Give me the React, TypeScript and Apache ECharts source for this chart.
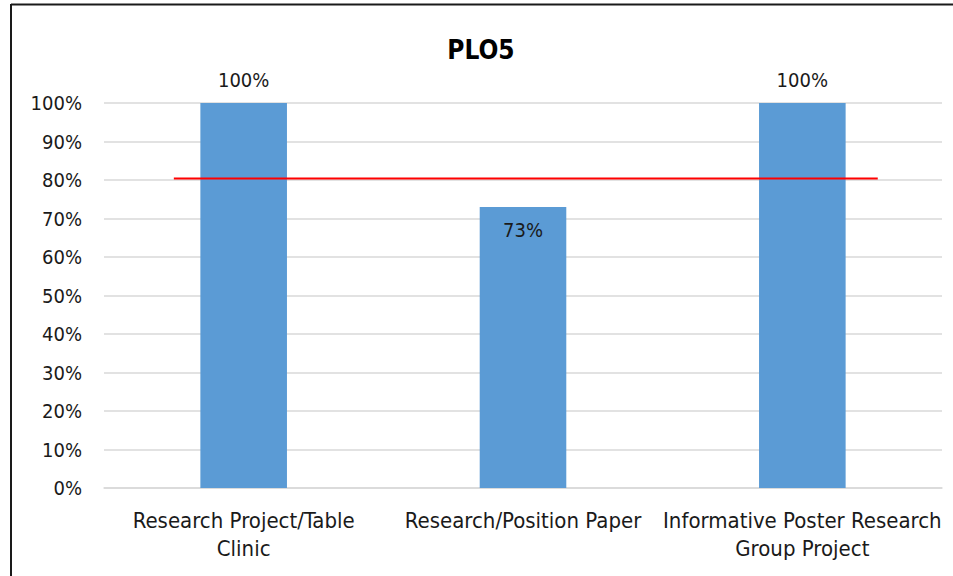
import React, { useEffect, useRef } from "react";
import * as echarts from "echarts";

const categories = ["Research Project/Table\nClinic", "Research/Position Paper", "Informative Poster Research\nGroup Project"];
const values = [100, 73, 100];
const yTicks = [0, 10, 20, 30, 40, 50, 60, 70, 80, 90, 100];
const targetLine = [[0.25, 80.4], [2.77, 80.4]];
const titleText = "PLO5";

const FONT = '"DejaVu Sans Condensed", "Liberation Sans", sans-serif';

export default function App() {
  const ref = useRef<HTMLDivElement>(null);
  useEffect(() => {
    if (!ref.current) return;
    const chart = echarts.init(ref.current, null, { renderer: "svg" });
    chart.setOption({
      animation: false,
      backgroundColor: "#ffffff",
      textStyle: { fontFamily: FONT },
      grid: { left: 104, right: 11, top: 103, bottom: 88, containLabel: false },
      graphic: [
        { type: "line", shape: { x1: 11, y1: 4.5, x2: 953, y2: 4.5 }, style: { stroke: "#1a1a1a", lineWidth: 2 } },
        { type: "line", shape: { x1: 11, y1: 4, x2: 11, y2: 576 }, style: { stroke: "#1a1a1a", lineWidth: 2 } },
        {
          type: "text",
          x: 481,
          y: 50,
          style: { text: titleText, fontSize: 26, fontWeight: "bold", fontFamily: FONT, fill: "#000", textAlign: "center", textVerticalAlign: "middle" },
        },
      ],
      xAxis: [
        {
          type: "category",
          data: categories,
          axisLine: { show: true, lineStyle: { color: "#d9d9d9", width: 1.5 } },
          axisTick: { show: false },
          axisLabel: { fontSize: 22, color: "#1a1a1a", fontFamily: FONT, margin: 18, lineHeight: 28, interval: 0 },
        },
        { type: "value", min: 0, max: 3, show: false },
      ],
      yAxis: {
        type: "value",
        min: 0,
        max: 100,
        interval: 10,
        axisLine: { show: false },
        axisTick: { show: false },
        splitLine: { lineStyle: { color: "#d9d9d9", width: 1.5 } },
        axisLabel: {
          fontSize: 20,
          color: "#1a1a1a",
          fontFamily: FONT,
          margin: 22,
          formatter: (v: number) => (yTicks.includes(v) ? v + "%" : ""),
        },
      },
      series: [
        {
          type: "bar",
          data: values.map((v) =>
            v < 80
              ? { value: v, label: { position: "insideTop", distance: 13 } }
              : { value: v }
          ),
          barWidth: "31%",
          itemStyle: { color: "#5b9bd5" },
          label: {
            show: true,
            fontSize: 20,
            color: "#1a1a1a",
            fontFamily: FONT,
            formatter: (p: any) => p.value + "%",
            position: "top",
            distance: 13,
          },
        },
        {
          type: "line",
          xAxisIndex: 1,
          yAxisIndex: 0,
          data: targetLine,
          symbol: "none",
          lineStyle: { color: "#ff0000", width: 2 },
          z: 5,
        },
      ],
    });
    return () => chart.dispose();
  }, []);
  return <div ref={ref} style={{ position: "fixed", left: 0, top: 0, width: 953, height: 576 }} />;
}
